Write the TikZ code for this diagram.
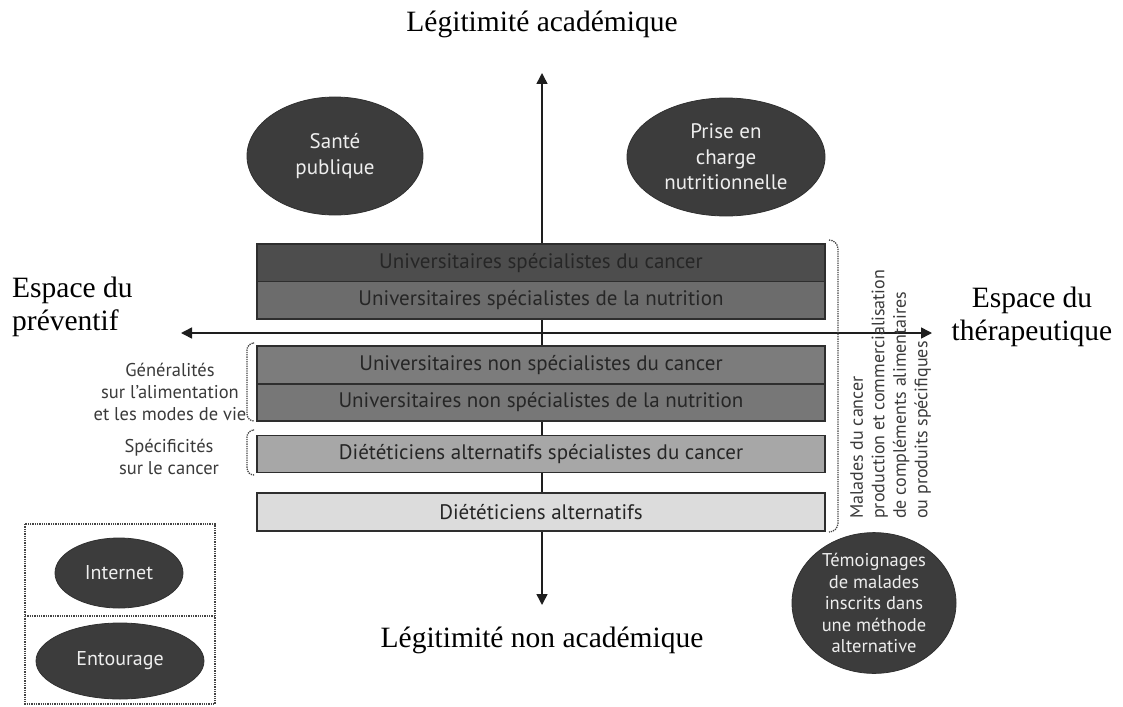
\documentclass[tikz,border=0pt]{standalone}
\usepackage{fontspec}
\setmainfont{Liberation Serif}
\newfontfamily\sansfont{PT Sans}
\usetikzlibrary{arrows.meta,shapes.geometric}
\definecolor{ink}{HTML}{1E1E1E}
\definecolor{boxline}{HTML}{2E2E2E}
\definecolor{boxtext}{HTML}{262626}
\definecolor{fillA}{HTML}{4D4D4D}
\definecolor{fillB}{HTML}{6C6C6C}
\definecolor{fillC}{HTML}{7C7C7C}
\definecolor{fillD}{HTML}{777777}
\definecolor{fillE}{HTML}{A7A7A7}
\definecolor{fillF}{HTML}{DCDCDC}
\definecolor{ovalfill}{HTML}{3C3C3C}
\definecolor{ovaltext}{HTML}{EEEEEE}
\definecolor{labeltext}{HTML}{3A3A3A}
\definecolor{dotline}{HTML}{444444}
\tikzset{
  axis/.style={draw=ink, line width=1.5pt, {Triangle[length=11pt,width=11pt]}-{Triangle[length=11pt,width=11pt]}},
  bigtitle/.style={font=\fontsize{29.5}{32.5}\selectfont, text=black, align=center, inner sep=0pt},
  bandbox/.style={draw=boxline, line width=1.6pt, minimum width=568pt, inner sep=0pt, anchor=north,
    font=\sansfont\fontsize{21}{24}\selectfont, text=boxtext},
  oval/.style={ellipse, fill=ovalfill, draw=ovalfill!80!black, line width=0.8pt, inner sep=0pt,
    text=ovaltext, align=center, font=\sansfont\fontsize{21}{25.5}\selectfont},
  sidelabel/.style={align=center, text=labeltext, inner sep=0pt, font=\sansfont\fontsize{18.5}{21.8}\selectfont},
  dotbracket/.style={draw=dotline, line width=1.3pt, densely dotted, rounded corners=7pt},
}
\begin{document}
\begin{tikzpicture}[x=1pt,y=-1pt]
\useasboundingbox (0,0) rectangle (1123,706);

% axes
\coordinate (vtop) at (542,73);
\coordinate (vbot) at (542,605);
\coordinate (hleft) at (181,333);
\coordinate (hright) at (932,333);
\draw[axis] (vtop) -- (vbot);
\draw[axis] (hleft) -- (hright);

% axis titles
\node[bigtitle] (ttop) at (542,24) {Légitimité académique};
\node[bigtitle] (tbot) at (542,640) {Légitimité non académique};
\node[bigtitle, align=left, anchor=west] (tleft) at (12,307) {Espace du\\préventif};
\node[bigtitle] (tright) at (1032,317) {Espace du\\thérapeutique};

% stacked boxes
\node[bandbox, fill=fillA, minimum height=37.5pt] (b1) at (541,243) {Universitaires spécialistes du cancer};
\node[bandbox, fill=fillB, minimum height=37.5pt] (b2) at (541,280.5) {Universitaires spécialistes de la nutrition};
\node[bandbox, fill=fillC, minimum height=38pt] (b3) at (541,345) {Universitaires non spécialistes du cancer};
\node[bandbox, fill=fillD, minimum height=37pt] (b4) at (541,383) {Universitaires non spécialistes de la nutrition};
\node[bandbox, fill=fillE, minimum height=37pt] (b5) at (541,434.5) {Diététiciens alternatifs spécialistes du cancer};
\node[bandbox, fill=fillF, minimum height=38pt] (b6) at (541,492) {Diététiciens alternatifs};

% ovals
\node[oval, minimum width=176pt, minimum height=118pt] (sante) at (335,156) {Santé\\publique};
\node[oval, minimum width=198pt, minimum height=118pt] (prise) at (726,157) {Prise en\\charge\\nutritionnelle};
\node[oval, minimum width=164pt, minimum height=124pt, font=\sansfont\fontsize{18.5}{21.5}\selectfont] (temoin) at (874,603) {Témoignages\\de malades\\inscrits dans\\une méthode\\alternative};

% left side labels and brackets
\node[sidelabel] (gen) at (170,392) {Généralités\\sur l’alimentation\\et les modes de vie};
\node[sidelabel] (spec) at (169,457) {Spécificités\\sur le cancer};
\draw[dotbracket] (253,343) -- (247,343) -- (247,421) -- (253,421);
\draw[dotbracket] (253,430) -- (247,430) -- (247,475) -- (253,475);

% right bracket and rotated label
\draw[dotbracket, rounded corners=9pt] (829,240) -- (838,240) -- (838,532) -- (829,532);
\node[sidelabel, align=left, rotate=90, anchor=west, font=\sansfont\fontsize{18}{21.5}\selectfont] (mal) at (890.5,519) {Malades du cancer\\production et commercialisation\\de compléments alimentaires\\ou produits spécifiques};

% bottom-left dotted box
\draw[draw=dotline, line width=1.3pt, densely dotted] (25,524) rectangle (215,704);
\draw[draw=dotline, line width=1.3pt, densely dotted] (25,616) -- (215,616);
\node[oval, minimum width=128pt, minimum height=70pt, font=\sansfont\fontsize{20}{24}\selectfont] (internet) at (119,573) {Internet};
\node[oval, minimum width=168pt, minimum height=76pt, font=\sansfont\fontsize{20}{24}\selectfont] (entour) at (120,661) {Entourage};
\end{tikzpicture}
\end{document}
